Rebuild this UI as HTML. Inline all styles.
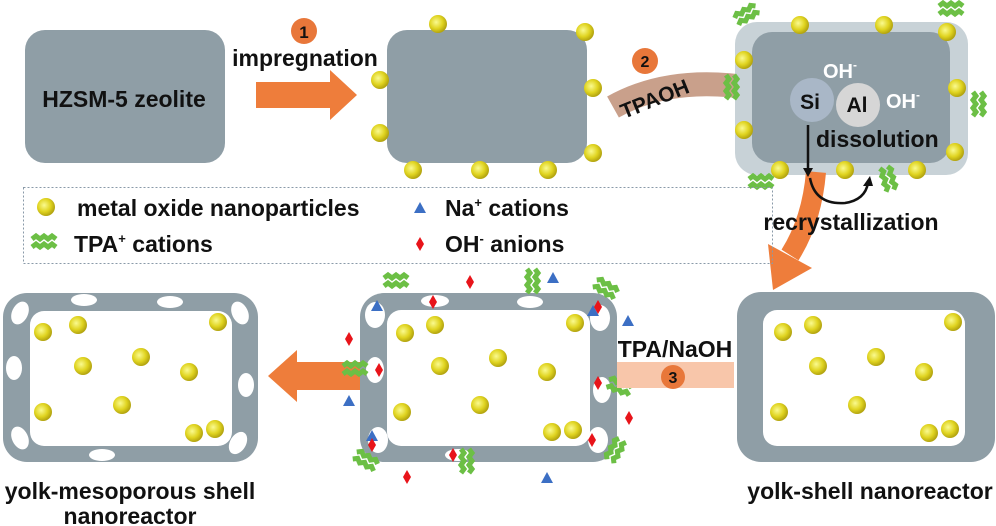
<!DOCTYPE html>
<html><head><meta charset="utf-8"><style>
html,body{margin:0;padding:0;background:#fff;}
svg{display:block;font-family:"Liberation Sans",Arial,sans-serif;font-weight:bold;}
</style></head><body>
<svg width="996" height="526" viewBox="0 0 996 526" xmlns="http://www.w3.org/2000/svg">
<defs>
<radialGradient id="yg" cx="0.4" cy="0.4" r="0.6">
<stop offset="0" stop-color="#fafa90"/><stop offset="0.6" stop-color="#e0d420"/><stop offset="1" stop-color="#b3a410"/>
</radialGradient>
<g id="d"><circle r="9" fill="url(#yg)"/></g>
<g id="t"><path d="M-13,-4 l4,-3 l4,3 l4,-3 l4,3 l4,-3 l4,3 M-13,4 l4,-3 l4,3 l4,-3 l4,3 l4,-3 l4,3" stroke="#6cbf45" stroke-width="5" fill="none"/></g>
<g id="na"><polygon points="0,-6 6,5 -6,5" fill="#3c6fc4"/></g>
<g id="oh"><polygon points="0,-7 4,0 0,7 -4,0" fill="#e8141a"/></g>
</defs>

<!-- Box 1 -->
<rect x="25" y="30" width="200" height="133" rx="20" fill="#8f9ea6"/>
<text x="124" y="107" font-size="23" text-anchor="middle" fill="#111">HZSM-5 zeolite</text>
<circle cx="304" cy="31" r="13" fill="#e8773a"/>
<text x="304" y="38" font-size="17" text-anchor="middle" fill="#111">1</text>
<text x="305" y="66" font-size="23" text-anchor="middle" fill="#111">impregnation</text>
<polygon points="256,82 330,82 330,70 357,95 330,120 330,108 256,108" fill="#ee7d3b"/>

<!-- Box 2 -->
<rect x="387" y="30" width="200" height="133" rx="20" fill="#8f9ea6"/>
<use href="#d" x="438" y="24"/><use href="#d" x="380" y="80"/><use href="#d" x="380" y="133"/>
<use href="#d" x="413" y="170"/><use href="#d" x="480" y="170"/><use href="#d" x="548" y="170"/>
<use href="#d" x="585" y="32"/><use href="#d" x="593" y="88"/><use href="#d" x="593" y="153"/>

<!-- TPAOH band -->
<path d="M613,107 Q670,75 752,88" stroke="#c9a08b" stroke-width="24" fill="none"/>
<text x="0" y="0" font-size="21" fill="#111" transform="translate(624,119) rotate(-22)">TPAOH</text>
<circle cx="645" cy="61" r="13" fill="#e8773a"/>
<text x="645" y="67" font-size="16" text-anchor="middle" fill="#111">2</text>

<!-- Box 3 -->
<rect x="735" y="22" width="233" height="153" rx="22" fill="#c8d2d7"/>
<rect x="752" y="32" width="198" height="131" rx="20" fill="#8f9ea6"/>
<use href="#t" x="730" y="88" transform="rotate(90 730 88)"/>
<use href="#t" x="748" y="15" transform="rotate(-30 748 15)"/>
<use href="#t" x="952" y="10"/>
<use href="#t" x="977" y="105" transform="rotate(90 977 105)"/>
<use href="#t" x="762" y="183"/>
<use href="#t" x="887" y="180" transform="rotate(75 887 180)"/>
<use href="#d" x="800" y="25"/><use href="#d" x="884" y="25"/><use href="#d" x="947" y="32"/>
<use href="#d" x="744" y="60"/><use href="#d" x="744" y="130"/>
<use href="#d" x="957" y="88"/><use href="#d" x="955" y="152"/>
<use href="#d" x="780" y="170"/><use href="#d" x="845" y="170"/><use href="#d" x="917" y="170"/>
<circle cx="812" cy="100" r="22" fill="#a9b7c7"/>
<circle cx="858" cy="105" r="22" fill="#d6d6d6"/>
<text x="810" y="109" font-size="21" text-anchor="middle" fill="#111">Si</text>
<text x="857" y="112" font-size="21" text-anchor="middle" fill="#111">Al</text>
<text x="823" y="78" font-size="20" fill="#fff">OH<tspan font-size="12" dy="-9">-</tspan></text>
<text x="886" y="108" font-size="20" fill="#fff">OH<tspan font-size="12" dy="-9">-</tspan></text>
<text x="816" y="147" font-size="23" fill="#111">dissolution</text>

<!-- orange curved arrow -->
<path d="M816,172 Q812,220 790,255" stroke="#ee7d3b" stroke-width="20" fill="none"/>
<polygon points="768,244 812,268 773,290" fill="#ee7d3b"/>
<!-- black arrow -->
<path d="M808,125 L808,172" stroke="#111" stroke-width="2.5" fill="none"/>
<polygon points="803,168 813,168 808,177" fill="#111"/>
<path d="M810,178 Q815,205 845,203 Q865,200 868,183" stroke="#111" stroke-width="2.5" fill="none"/>
<polygon points="863,186 873,186 870,176" fill="#111"/>
<text x="851" y="230" font-size="23" text-anchor="middle" fill="#111">recrystallization</text>

<!-- Legend -->
<rect x="23.5" y="187.5" width="749" height="76" fill="none" stroke="#8a9aa8" stroke-width="1" stroke-dasharray="2,2"/>
<use href="#d" x="46" y="207"/>
<text x="77" y="216" font-size="23" fill="#111">metal oxide nanoparticles</text>
<use href="#t" x="45" y="243"/>
<text x="74" y="252" font-size="23" fill="#111">TPA<tspan font-size="13" dy="-9">+</tspan><tspan dy="9"> cations</tspan></text>
<use href="#na" x="420" y="208"/>
<text x="445" y="216" font-size="23" fill="#111">Na<tspan font-size="13" dy="-9">+</tspan><tspan dy="9"> cations</tspan></text>
<use href="#oh" x="420" y="244"/>
<text x="445" y="252" font-size="23" fill="#111">OH<tspan font-size="13" dy="-9">-</tspan><tspan dy="9"> anions</tspan></text>

<!-- Bottom-left box -->
<rect x="3" y="293" width="255" height="169" rx="24" fill="#8f9ea6"/>
<rect x="30" y="311" width="202" height="135" rx="14" fill="#fff"/>
<g fill="#fff">
<ellipse cx="84" cy="300" rx="13" ry="6"/><ellipse cx="170" cy="302" rx="13" ry="6"/>
<ellipse cx="20" cy="313" rx="8" ry="12" transform="rotate(25 20 313)"/>
<ellipse cx="240" cy="313" rx="8" ry="12" transform="rotate(-25 240 313)"/>
<ellipse cx="14" cy="368" rx="8" ry="12"/><ellipse cx="246" cy="385" rx="8" ry="12"/>
<ellipse cx="20" cy="438" rx="8" ry="12" transform="rotate(-25 20 438)"/>
<ellipse cx="238" cy="443" rx="8" ry="12" transform="rotate(30 238 443)"/>
<ellipse cx="102" cy="455" rx="13" ry="6"/>
</g>
<use href="#d" x="43" y="332"/><use href="#d" x="78" y="325"/><use href="#d" x="83" y="366"/>
<use href="#d" x="141" y="357"/><use href="#d" x="189" y="372"/><use href="#d" x="218" y="322"/>
<use href="#d" x="43" y="412"/><use href="#d" x="122" y="405"/><use href="#d" x="194" y="433"/><use href="#d" x="215" y="429"/>
<text x="130" y="499" font-size="23" text-anchor="middle" fill="#111">yolk-mesoporous shell</text>
<text x="130" y="524" font-size="23" text-anchor="middle" fill="#111">nanoreactor</text>

<!-- left arrow -->
<polygon points="268,376 297,350 297,362 362,362 362,390 297,390 297,402" fill="#ee7d3b"/>

<!-- Middle box -->
<rect x="360" y="293" width="257" height="169" rx="24" fill="#8f9ea6"/>
<rect x="387" y="310" width="203" height="136" rx="14" fill="#fff"/>
<g fill="#fff">
<ellipse cx="375" cy="315" rx="10" ry="13"/><ellipse cx="435" cy="301" rx="14" ry="6"/>
<ellipse cx="530" cy="302" rx="13" ry="6"/><ellipse cx="600" cy="318" rx="10" ry="13"/>
<ellipse cx="375" cy="370" rx="9" ry="13"/><ellipse cx="602" cy="390" rx="9" ry="13"/>
<ellipse cx="378" cy="440" rx="10" ry="13"/><ellipse cx="598" cy="440" rx="10" ry="13"/>
<ellipse cx="458" cy="455" rx="13" ry="6"/>
</g>
<use href="#d" x="405" y="333"/><use href="#d" x="435" y="325"/><use href="#d" x="440" y="366"/>
<use href="#d" x="498" y="358"/><use href="#d" x="547" y="372"/><use href="#d" x="575" y="323"/>
<use href="#d" x="402" y="412"/><use href="#d" x="480" y="405"/><use href="#d" x="552" y="432"/><use href="#d" x="573" y="430"/>
<use href="#t" x="397" y="282"/><use href="#t" x="531" y="282" transform="rotate(90 531 282)"/>
<use href="#t" x="606" y="290" transform="rotate(30 606 290)"/>
<use href="#t" x="356" y="370"/><use href="#t" x="620" y="388" transform="rotate(20 620 388)"/>
<use href="#t" x="366" y="462" transform="rotate(30 366 462)"/>
<use href="#t" x="465" y="462" transform="rotate(90 465 462)"/>
<use href="#t" x="617" y="450" transform="rotate(-60 617 450)"/>
<use href="#na" x="553" y="278"/><use href="#na" x="377" y="306"/><use href="#na" x="593" y="311"/>
<use href="#na" x="628" y="321"/><use href="#na" x="349" y="401"/><use href="#na" x="372" y="436"/>
<use href="#na" x="547" y="478"/>
<use href="#oh" x="470" y="282"/><use href="#oh" x="433" y="302"/><use href="#oh" x="598" y="307"/>
<use href="#oh" x="349" y="339"/><use href="#oh" x="379" y="370"/><use href="#oh" x="598" y="383"/>
<use href="#oh" x="629" y="418"/><use href="#oh" x="372" y="445"/><use href="#oh" x="592" y="440"/>
<use href="#oh" x="453" y="455"/><use href="#oh" x="407" y="477"/>

<!-- TPA/NaOH band -->
<rect x="617" y="362" width="117" height="26" fill="#f8c6aa"/>
<text x="675" y="357" font-size="23" text-anchor="middle" fill="#111">TPA/NaOH</text>
<circle cx="673" cy="377" r="12" fill="#e8773a"/>
<text x="673" y="383" font-size="16" text-anchor="middle" fill="#111">3</text>

<!-- Right box -->
<rect x="737" y="292" width="258" height="170" rx="24" fill="#8f9ea6"/>
<rect x="763" y="310" width="202" height="136" rx="14" fill="#fff"/>
<use href="#d" x="783" y="332"/><use href="#d" x="813" y="325"/><use href="#d" x="818" y="366"/>
<use href="#d" x="876" y="357"/><use href="#d" x="924" y="372"/><use href="#d" x="953" y="322"/>
<use href="#d" x="779" y="412"/><use href="#d" x="857" y="405"/><use href="#d" x="929" y="433"/><use href="#d" x="950" y="429"/>
<text x="870" y="499" font-size="23" text-anchor="middle" fill="#111">yolk-shell nanoreactor</text>
</svg>
</body></html>
